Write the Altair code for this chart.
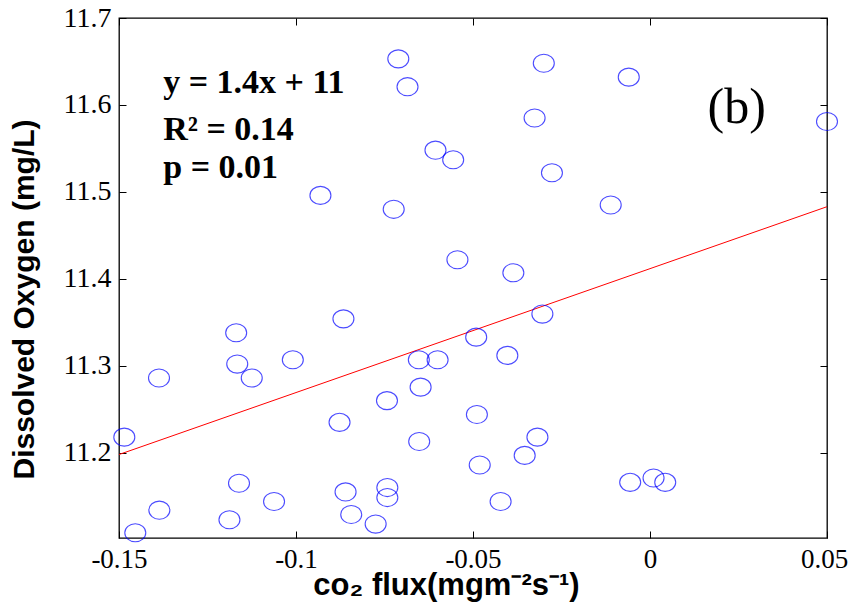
import altair as alt
import pandas as pd

# ---- data ----
co2_flux = [-0.0711, -0.0685, -0.0606, -0.0556, -0.0931, -0.0724, -0.0544, -0.0300,
            -0.0060, -0.0326, 0.0500, -0.0277, -0.0111, -0.0386, -0.0866, -0.1169,
            -0.0491, -0.1009, -0.1166, -0.1387, -0.1125, -0.0653, -0.0600, -0.0648,
            -0.0743, -0.0877, -0.0489, -0.1485, -0.0652, -0.0481, -0.1161, -0.0742,
            -0.0742, -0.0860, -0.1062, -0.1386, -0.1188, -0.0844, -0.0775, -0.1454,
            -0.0304, -0.0403, -0.0318, -0.0354, -0.0422, -0.0056, 0.0010, 0.0043]
dissolved_oxygen = [11.653, 11.621, 11.548, 11.537, 11.496, 11.480, 11.422, 11.648,
                    11.632, 11.585, 11.581, 11.522, 11.485, 11.407, 11.354, 11.338,
                    11.333, 11.307, 11.302, 11.286, 11.286, 11.307, 11.307, 11.2755,
                    11.260, 11.235, 11.244, 11.218, 11.213, 11.186, 11.165, 11.160,
                    11.1485, 11.155, 11.144, 11.134, 11.123, 11.129, 11.118, 11.108,
                    11.3595, 11.312, 11.218, 11.197, 11.144, 11.166, 11.171, 11.166]

fit_x = [-0.15, 0.05]
fit_y = [11.198, 11.483]

x_ticks = [-0.15, -0.1, -0.05, 0, 0.05]
y_ticks = [11.2, 11.3, 11.4, 11.5, 11.6, 11.7]
x_domain = [-0.15, 0.05]
y_domain = [11.102, 11.7]

stats_lines = ["y = 1.4x + 11", "R\u00b2 = 0.14", "p = 0.01"]
stats_x = [-0.1375, -0.1375, -0.1375]
stats_y = [11.614, 11.560, 11.516]
panel_label = ["(b)"]
panel_x = [0.0245]
panel_y = [11.579]

x_title = "co\u2082 flux(mgm\u207b\u00b2s\u207b\u00b9)"
y_title = "Dissolved Oxygen (mg/L)"

W, H = 708, 520

pts = pd.DataFrame({"flux": co2_flux, "do": dissolved_oxygen})
fit = pd.DataFrame({"flux": fit_x, "do": fit_y})
stats = pd.DataFrame({"flux": stats_x, "do": stats_y, "txt": stats_lines})
panel = pd.DataFrame({"flux": panel_x, "do": panel_y, "txt": panel_label})


def xs():
    return alt.Scale(domain=x_domain, nice=False, zero=False)


def ys():
    return alt.Scale(domain=y_domain, nice=False, zero=False)


x_label_expr = "datum.value < 0 ? '-' + format(-datum.value, '~g') : format(datum.value, '~g')"
serif = "Liberation Serif"
sans = "Liberation Sans"

ellipse = "M-1,0 A1,0.86 0 1,1 1,0 A1,0.86 0 1,1 -1,0 Z"

points = alt.Chart(pts).mark_point(
    shape=ellipse, size=441, filled=False, color="#0000FF", strokeWidth=1.1, clip=False
).encode(
    x=alt.X("flux:Q", scale=xs(), axis=alt.Axis(
        orient="bottom", values=x_ticks, ticks=False, domain=False, grid=False,
        labelExpr=x_label_expr, labelFont=serif, labelFontSize=27, labelColor="black",
        labelPadding=8, labelFlush=False, labelOverlap=False,
        labelOffset={"condition": {"test": "datum.value > 0.04", "value": -3}, "value": 0},
        title=x_title, titleFont=sans, titleFontSize=31, titleFontWeight="bold",
        titleColor="black", titleX=327, titleY=56, titleBaseline="alphabetic",
        titleAlign="center")),
    y=alt.Y("do:Q", scale=ys(), axis=alt.Axis(
        orient="left", values=y_ticks, ticks=False, domain=False, grid=False,
        format=".1f", labelFont=serif, labelFontSize=28, labelColor="black",
        labelPadding=8, labelFlush=False, labelOverlap=False, labelBaseline="middle",
        title=y_title, titleFont=sans, titleFontSize=30, titleFontWeight="bold",
        titleColor="black", titleX=-80, titleY=281, titleAngle=270,
        titleBaseline="bottom", titleAlign="center")),
)

line = alt.Chart(fit).mark_line(color="#FF0000", strokeWidth=1).encode(
    x=alt.X("flux:Q", scale=xs(), axis=alt.Axis(
        orient="top", offset=-H, values=x_ticks, labels=False, domain=False,
        grid=False, title=None, tickSize=7, tickColor="black", tickWidth=1)),
    y=alt.Y("do:Q", scale=ys(), axis=alt.Axis(
        orient="right", offset=-W, values=y_ticks, labels=False, domain=False,
        grid=False, title=None, tickSize=7, tickColor="black", tickWidth=1)),
)

stats_text = alt.Chart(stats).mark_text(
    font=serif, fontSize=34, fontWeight="bold", align="left", baseline="alphabetic",
    color="black"
).encode(
    x=alt.X("flux:Q", scale=xs(), axis=alt.Axis(
        orient="bottom", offset=-H, values=x_ticks, labels=False, domain=False,
        grid=False, title=None, tickSize=7, tickColor="black", tickWidth=1)),
    y=alt.Y("do:Q", scale=ys(), axis=alt.Axis(
        orient="left", offset=-W, values=y_ticks, labels=False, domain=False,
        grid=False, title=None, tickSize=7, tickColor="black", tickWidth=1)),
    text="txt:N",
)

panel_text = alt.Chart(panel).mark_text(
    font=serif, fontSize=50, align="center", baseline="alphabetic", color="black"
).encode(
    x=alt.X("flux:Q", scale=xs(), axis=None),
    y=alt.Y("do:Q", scale=ys(), axis=None),
    text="txt:N",
)

chart = alt.layer(line, points, stats_text, panel_text).resolve_scale(
    x="independent", y="independent"
).properties(
    width=W, height=H,
    autosize=alt.AutoSizeParams(type="none"),
    padding={"left": 111, "top": 10, "right": 21, "bottom": 64},
    background="white",
).configure_view(stroke="black", strokeWidth=1.3)

chart.save("out.html", embed_options={"renderer": "svg", "actions": False})
